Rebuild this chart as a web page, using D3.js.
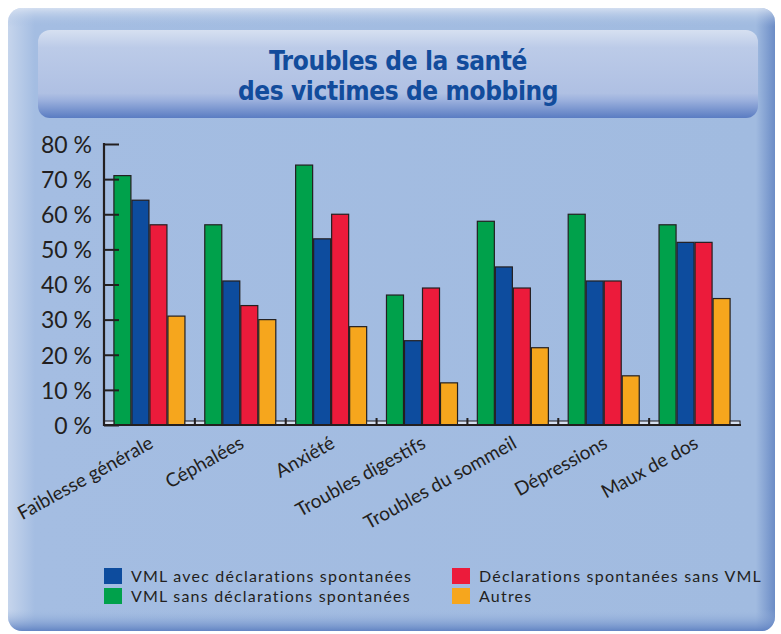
<!DOCTYPE html>
<html>
<head>
<meta charset="utf-8">
<script src="https://cdn.jsdelivr.net/npm/d3@7"></script>
<style>
  body { margin: 0; background: #fff; }
  svg { display: block; }
</style>
</head>
<body>
<div class="chart"></div>
<script>
// data
var categories = ["Faiblesse générale", "Céphalées", "Anxiété", "Troubles digestifs",
                  "Troubles du sommeil", "Dépressions", "Maux de dos"];
var seriesNames = ["VML sans déclarations spontanées", "VML avec déclarations spontanées",
                   "Déclarations spontanées sans VML", "Autres"];
var greenValues  = [71, 57, 74, 37, 58, 60, 57];
var blueValues   = [64, 41, 53, 24, 45, 41, 52];
var redValues    = [57, 34, 60, 39, 39, 41, 52];
var orangeValues = [31, 30, 28, 12, 22, 14, 36];
var yTicks = [0, 10, 20, 30, 40, 50, 60, 70, 80];
var titleLines = ["Troubles de la santé", "des victimes de mobbing"];

var colors = ["#00a14b", "#0d4c9e", "#ec1b3b", "#f6a61d"];
var seriesValues = [greenValues, blueValues, redValues, orangeValues];

var W = 781, H = 634;
var svg = d3.select(".chart").append("svg").attr("width", W).attr("height", H);
var defs = svg.append("defs");

// background panel gradients
var gH = defs.append("linearGradient").attr("id", "gH").attr("x1", 0).attr("x2", 1).attr("y1", 0).attr("y2", 0);
gH.append("stop").attr("offset", "0").attr("stop-color", "#c6d5ec");
gH.append("stop").attr("offset", "0.035").attr("stop-color", "#a4bde2");
gH.append("stop").attr("offset", "0.975").attr("stop-color", "#a1bbe0");
gH.append("stop").attr("offset", "1").attr("stop-color", "#6b8cc6");

var gV = defs.append("linearGradient").attr("id", "gV").attr("x1", 0).attr("x2", 0).attr("y1", 0).attr("y2", 1);
gV.append("stop").attr("offset", "0").attr("stop-color", "#dfe7f4").attr("stop-opacity", 0.8);
gV.append("stop").attr("offset", "0.03").attr("stop-color", "#a3bce1").attr("stop-opacity", 0);
gV.append("stop").attr("offset", "0.965").attr("stop-color", "#a3bce1").attr("stop-opacity", 0);
gV.append("stop").attr("offset", "1").attr("stop-color", "#5b7ec0").attr("stop-opacity", 0.9);

var gT = defs.append("linearGradient").attr("id", "gT").attr("x1", 0).attr("x2", 0).attr("y1", 0).attr("y2", 1);
gT.append("stop").attr("offset", "0").attr("stop-color", "#d6e0f1");
gT.append("stop").attr("offset", "0.2").attr("stop-color", "#bccbe8");
gT.append("stop").attr("offset", "0.72").attr("stop-color", "#afc0e3");
gT.append("stop").attr("offset", "0.8").attr("stop-color", "#9bb0dd");
gT.append("stop").attr("offset", "1").attr("stop-color", "#5a7cc2");

svg.append("rect").attr("x", 8).attr("y", 8).attr("width", 767).attr("height", 623)
   .attr("rx", 14).attr("fill", "url(#gH)");
svg.append("rect").attr("x", 8).attr("y", 8).attr("width", 767).attr("height", 623)
   .attr("rx", 14).attr("fill", "url(#gV)");

// title box
svg.append("rect").attr("x", 38).attr("y", 30).attr("width", 720).attr("height", 88)
   .attr("rx", 12).attr("fill", "url(#gT)");

svg.selectAll(".title").data(titleLines).enter().append("text")
   .attr("class", "title")
   .attr("x", 398).attr("y", function(d, i) { return 70 + i * 30; })
   .attr("text-anchor", "middle")
   .attr("font-family", "'DejaVu Sans Condensed', 'Liberation Sans Narrow', sans-serif")
   .attr("font-weight", "bold").attr("font-size", 26).attr("letter-spacing", -0.4)
   .attr("fill", "#124c9c")
   .text(function(d) { return d; });

// scales
var x0 = d3.scaleBand().domain(categories).range([104, 740]).paddingInner(0).paddingOuter(0);
var x1 = d3.scaleBand().domain(d3.range(4)).range([0, x0.bandwidth()])
           .paddingInner(0.055).paddingOuter(0.55);
var y = d3.scaleLinear().domain([0, 80]).range([425, 144]);

var ink = "#231f20";
var font = "Lato, 'Open Sans', sans-serif";

// bars
var groups = svg.selectAll(".grp").data(categories).enter().append("g")
   .attr("transform", function(d) { return "translate(" + x0(d) + ",0)"; });

groups.selectAll("rect.bar")
   .data(function(d, ci) { return seriesValues.map(function(s, si) { return {si: si, v: s[ci]}; }); })
   .enter().append("rect")
   .attr("x", function(d) { return x1(d.si); })
   .attr("y", function(d) { return y(d.v); })
   .attr("width", x1.bandwidth())
   .attr("height", function(d) { return y(0) - y(d.v); })
   .attr("fill", function(d) { return colors[d.si]; })
   .attr("stroke", ink).attr("stroke-width", 1.2);

// base strip cells in the gaps between groups
var gapL = x1(0), gapR = x0.bandwidth() - (x1(3) + x1.bandwidth());
groups.append("rect").attr("x", 0).attr("y", y(0) - 4).attr("width", gapL).attr("height", 4)
   .attr("fill", "#d5dff0").attr("stroke", ink).attr("stroke-width", 1);
groups.append("rect").attr("x", x0.bandwidth() - gapR).attr("y", y(0) - 4).attr("width", gapR).attr("height", 4)
   .attr("fill", "#d5dff0").attr("stroke", ink).attr("stroke-width", 1);

// y axis
var yAxis = d3.axisLeft(y).tickValues(yTicks).tickSize(-15).tickPadding(12)
              .tickFormat(function(d) { return d + " %"; });
var ya = svg.append("g").attr("transform", "translate(104,0)").call(yAxis);
ya.select(".domain").remove();
ya.selectAll(".tick line").attr("stroke", ink).attr("stroke-width", 2);
ya.selectAll(".tick text").attr("font-family", font).attr("font-size", 23)
  .attr("fill", ink).attr("dy", "0.36em");
svg.append("line").attr("x1", 104).attr("x2", 104).attr("y1", y(80) - 1).attr("y2", y(0) + 1)
   .attr("stroke", ink).attr("stroke-width", 2.2);

// x axis
svg.append("line").attr("x1", 103).attr("x2", 741).attr("y1", y(0)).attr("y2", y(0))
   .attr("stroke", ink).attr("stroke-width", 2.2);
svg.selectAll(".xtick").data(categories.slice(1)).enter().append("line")
   .attr("x1", function(d) { return x0(d); }).attr("x2", function(d) { return x0(d); })
   .attr("y1", y(0)).attr("y2", y(0) - 7)
   .attr("stroke", ink).attr("stroke-width", 2);

svg.selectAll(".xlab").data(categories).enter().append("text")
   .attr("transform", function(d) {
       return "translate(" + (x0(d) + x0.bandwidth() / 2 + 5) + ",447) rotate(-29)";
   })
   .attr("text-anchor", "end")
   .attr("font-family", font).attr("font-size", 19).attr("fill", ink)
   .text(function(d) { return d; });

// legend
var legendOrder = [1, 2, 0, 3];
var legendPos = [[104, 568], [452, 568], [104, 588], [452, 588]];
var leg = svg.selectAll(".leg").data(legendOrder).enter().append("g")
   .attr("transform", function(d, i) { return "translate(" + legendPos[i][0] + "," + legendPos[i][1] + ")"; });
leg.append("rect").attr("width", 18).attr("height", 16)
   .attr("fill", function(d) { return colors[d]; });
leg.append("text").attr("x", 27).attr("y", 14)
   .attr("font-family", font).attr("font-size", 16).attr("letter-spacing", 1.2).attr("fill", ink)
   .text(function(d) { return seriesNames[d]; });
</script>
</body>
</html>
